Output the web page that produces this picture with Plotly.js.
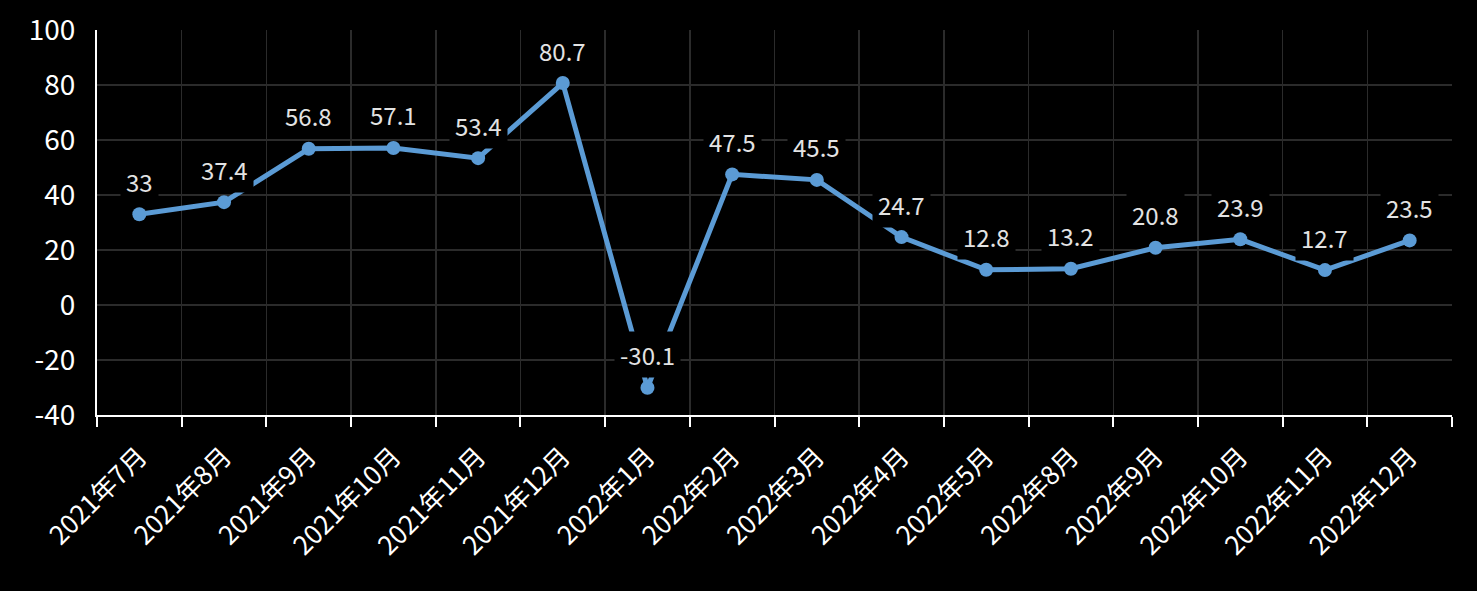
<!DOCTYPE html>
<html>
<head>
<meta charset="utf-8">
<script src="https://cdn.plot.ly/plotly-3.0.1.min.js"></script>
<style>html,body{margin:0;padding:0;background:#000;}#chart{width:1477px;height:591px;}</style>
</head>
<body>
<div id="chart"></div>
<script>
var categories = ["2021年7月","2021年8月","2021年9月","2021年10月","2021年11月","2021年12月","2022年1月","2022年2月","2022年3月","2022年4月","2022年5月","2022年8月","2022年9月","2022年10月","2022年11月","2022年12月"];
var values = [33, 37.4, 56.8, 57.1, 53.4, 80.7, -30.1, 47.5, 45.5, 24.7, 12.8, 13.2, 20.8, 23.9, 12.7, 23.5];
var yTicks = [-40, -20, 0, 20, 40, 60, 80, 100];

var font = '"Noto Sans CJK SC", "Noto Sans", sans-serif';

var trace = {
  x: categories,
  y: values,
  type: 'scatter',
  mode: 'lines+markers',
  line: {color: '#5b9bd5', width: 5},
  marker: {color: '#5b9bd5', size: 14},
  hoverinfo: 'x+y',
  cliponaxis: false
};

var annotations = categories.map(function(c, i){
  return {
    x: c, y: values[i], xref: 'x', yref: 'y',
    text: String(values[i]),
    showarrow: false,
    yshift: 33,
    bgcolor: '#000',
    borderpad: 5,
    font: {family: font, size: 24, color: '#e3e3e3'}
  };
});

var layout = {
  width: 1477, height: 591,
  paper_bgcolor: '#000', plot_bgcolor: '#000',
  margin: {l: 97, r: 25, t: 30, b: 176},
  showlegend: false,
  xaxis: {
    type: 'category',
    tickson: 'boundaries',
    ticks: 'outside', ticklen: 10, tickwidth: 2, tickcolor: '#fff',
    showline: true, linecolor: '#fff', linewidth: 2,
    showgrid: true, gridcolor: '#2b2b2b', gridwidth: 1.5,
    tickangle: -45,
    ticklabelstandoff: 14,
    tickfont: {family: font, size: 26, color: '#fff'},
    range: [-0.5, categories.length - 0.5],
    zeroline: false
  },
  yaxis: {
    range: [-40, 100],
    tickvals: yTicks,
    ticktext: yTicks.map(String),
    ticks: '',
    ticklabelstandoff: 14,
    showline: true, linecolor: '#fff', linewidth: 2,
    showgrid: true, gridcolor: '#2b2b2b', gridwidth: 1.5,
    zeroline: false,
    tickfont: {family: font, size: 28, color: '#fff'}
  },
  annotations: annotations
};

Plotly.newPlot('chart', [trace], layout, {displayModeBar: false, staticPlot: true});
</script>
</body>
</html>
